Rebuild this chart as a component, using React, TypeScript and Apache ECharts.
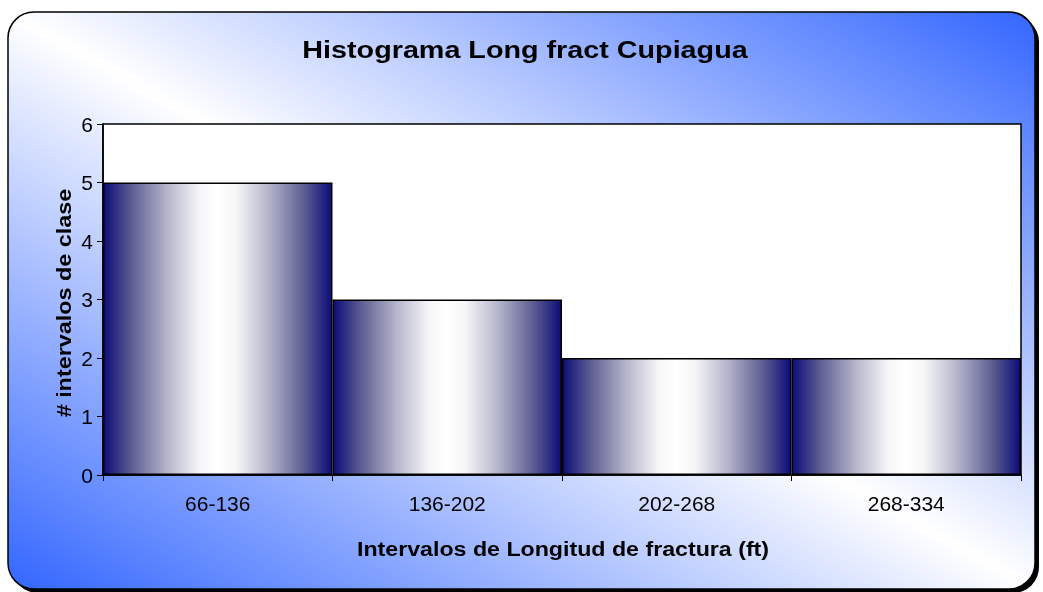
import React, { useEffect, useRef } from "react";
import * as echarts from "echarts";

const categories = ["66-136", "136-202", "202-268", "268-334"];
const counts = [5, 3, 2, 2];
const yTicks = { min: 0, max: 6, interval: 1 };
const titleText = "Histograma Long fract Cupiagua";
const xAxisTitle = "Intervalos de Longitud de fractura (ft)";
const yAxisTitle = "# intervalos de clase";

const FONT = "'Liberation Sans', Arial, Helvetica, sans-serif";

export default function App() {
  const ref = useRef<HTMLDivElement>(null);
  useEffect(() => {
    if (!ref.current) return;
    const chart = echarts.init(ref.current, undefined, { renderer: "svg" });

    // background gradient: blue at top-right & bottom-left, white along main diagonal
    const bx = 8, by = 12, bw = 1027, bh = 577;
    const cx = bx + bw / 2, cy = by + bh / 2;
    const len = Math.sqrt(bw * bw + bh * bh);
    const nx = bh / len, ny = -bw / len;
    const d = ((bx + bw - cx) * nx + (by - cy) * ny);
    const bg = new echarts.graphic.LinearGradient(
      cx - d * nx, cy - d * ny, cx + d * nx, cy + d * ny,
      [
        { offset: 0, color: "#3366ff" },
        { offset: 0.5, color: "#ffffff" },
        { offset: 1, color: "#3366ff" },
      ],
      true
    );

    const barGrad = new echarts.graphic.LinearGradient(0, 0, 1, 0, [
      { offset: 0, color: "#0c0c78" },
      { offset: 0.12, color: "#5c5c92" },
      { offset: 0.28, color: "#b6b6cc" },
      { offset: 0.42, color: "#f6f6f8" },
      { offset: 0.5, color: "#ffffff" },
      { offset: 0.58, color: "#f6f6f8" },
      { offset: 0.72, color: "#b6b6cc" },
      { offset: 0.88, color: "#5c5c92" },
      { offset: 1, color: "#0c0c78" },
    ]);

    chart.setOption({
      animation: false,
      graphic: [
        {
          type: "rect",
          z: -100,
          shape: { x: bx + 4, y: by + 4, width: bw, height: bh, r: 26 },
          style: { fill: "#000000" },
          silent: true,
        },
        {
          type: "rect",
          z: -99,
          shape: { x: bx, y: by, width: bw, height: bh, r: 26 },
          style: { fill: bg, stroke: "#000000", lineWidth: 1.5 },
          silent: true,
        },
        {
          type: "text",
          z: 100,
          x: 525,
          y: 50,
          scaleX: 1.25,
          style: {
            text: titleText,
            fontSize: 23,
            fontWeight: "bold",
            fontFamily: FONT,
            fill: "#000000",
            align: "center",
            verticalAlign: "middle",
          },
        },
        {
          type: "text",
          z: 100,
          x: 563,
          y: 549,
          scaleX: 1.16,
          style: {
            text: xAxisTitle,
            fontSize: 20,
            fontWeight: "bold",
            fontFamily: FONT,
            fill: "#000000",
            align: "center",
            verticalAlign: "middle",
          },
        },
        {
          type: "text",
          z: 100,
          x: 64,
          y: 303,
          rotation: Math.PI / 2,
          scaleX: 1.17,
          style: {
            text: yAxisTitle,
            fontSize: 20,
            fontWeight: "bold",
            fontFamily: FONT,
            fill: "#000000",
            align: "center",
            verticalAlign: "middle",
          },
        },
      ],
      grid: {
        left: 103,
        top: 124,
        width: 918,
        height: 351,
        show: true,
        backgroundColor: "#ffffff",
        borderColor: "#000000",
        borderWidth: 1.5,
      },
      xAxis: {
        type: "category",
        data: categories,
        boundaryGap: true,
        axisLine: { show: true, lineStyle: { color: "#000000", width: 1.5 } },
        axisTick: { show: true, length: 6, lineStyle: { color: "#000000" } },
        axisLabel: {
          color: "#000000",
          fontSize: 21,
          fontFamily: FONT,
          margin: 18,
        },
        splitLine: { show: false },
      },
      yAxis: {
        type: "value",
        min: yTicks.min,
        max: yTicks.max,
        interval: yTicks.interval,
        axisLine: { show: true, lineStyle: { color: "#000000", width: 1.5 } },
        axisTick: { show: true, length: 6, lineStyle: { color: "#000000" } },
        axisLabel: {
          color: "#000000",
          fontSize: 21,
          fontFamily: FONT,
          margin: 10,
        },
        splitLine: { show: false },
      },
      series: [
        {
          type: "bar",
          data: counts,
          barWidth: "100%",
          barCategoryGap: "0%",
          itemStyle: { color: barGrad, borderColor: "#000000", borderWidth: 1.5 },
          silent: true,
        },
      ],
    });
    return () => chart.dispose();
  }, []);
  return (
    <div
      ref={ref}
      style={{ position: "fixed", left: 0, top: 0, width: 1043, height: 592 }}
    />
  );
}
